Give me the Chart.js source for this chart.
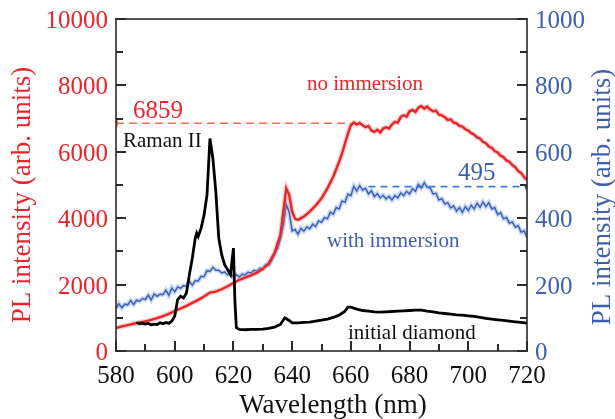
<!DOCTYPE html>
<html><head><meta charset="utf-8">
<script src="https://cdn.jsdelivr.net/npm/chart.js@4"></script>
<style>html,body{margin:0;padding:0;background:#fff}#c{display:block}</style>
</head><body>
<canvas id="c" width="615" height="419"></canvas>
<script>
// ---- data ----
const xTicks = [580,600,620,640,660,680,700,720];
const leftTicks = [0,2000,4000,6000,8000,10000];
const rightTicks = [0,200,400,600,800,1000];

const redX = [580,582,584,586,588,590,592,594,596,598,600,602,604,606,608,610,612,614,616,618,620,622,624,626,628,630,632,634,636,637,638,639,640,641,642,644,646,648,650,652,654,656,657,658,659,660,661,662,663,664,665,666,667,668,669,670,671,672,673,674,675,676,677,678,679,680,681,682,683,684,685,686,687,688,689,690,691,692,693,694,695,696,697,698,699,700,701,702,703,704,705,706,707,708,709,710,711,712,713,714,715,716,717,718,719,720];
const redY = [690,740,780,820,860,890,940,990,1050,1120,1200,1280,1360,1450,1540,1640,1760,1790,1860,1950,2050,2140,2210,2280,2360,2470,2640,2950,3500,4200,4900,4700,4200,3980,3950,4050,4200,4380,4600,4900,5250,5700,5950,6250,6550,6800,6880,6820,6870,6800,6740,6780,6640,6600,6660,6580,6700,6740,6700,6820,6900,6880,7050,7100,7060,7220,7260,7200,7330,7380,7300,7360,7270,7220,7240,7120,7100,7040,6960,6980,6880,6860,6780,6760,6680,6640,6560,6520,6430,6400,6300,6260,6160,6120,6020,5980,5880,5840,5740,5700,5600,5540,5420,5360,5240,5150];

const blueX = [580,581,582,583,584,585,586,587,588,589,590,591,592,593,594,595,596,597,598,599,600,601,602,603,604,605,606,607,608,609,610,611,612,613,614,615,616,617,618,619,620,621,622,623,624,625,626,627,628,629,630,631,632,633,634,635,636,637,638,639,640,641,642,643,644,645,646,647,648,649,650,651,652,653,654,655,656,657,658,659,660,661,662,663,664,665,666,667,668,669,670,671,672,673,674,675,676,677,678,679,680,681,682,683,684,685,686,687,688,689,690,691,692,693,694,695,696,697,698,699,700,701,702,703,704,705,706,707,708,709,710,711,712,713,714,715,716,717,718,719,720];
const blueY = [128,142,130,141,139,152,140,153,150,158,155,168,154,172,165,171,170,183,168,190,178,193,189,197,195,210,198,212,211,225,224,242,240,252,243,243,235,238,229,233,224,230,223,231,229,237,235,243,241,249,248,259,258,272,292,308,338,378,442,418,362,366,352,370,361,374,368,382,375,392,388,402,398,418,412,432,428,452,448,472,468,496,482,498,485,490,473,483,465,474,461,469,458,466,455,468,461,476,468,481,473,489,481,502,491,507,493,492,473,475,455,459,443,447,431,437,421,432,418,435,423,439,428,445,433,449,435,447,428,432,411,417,398,402,385,389,373,377,358,362,342];

const blackX = [587,588,589,590,591,592,593,594,595,596,597,598,599,600,601,602,603,604,605,606,607,607.5,608,609,610,611,612,613,614,615,616,617,618,619,620,620.5,621,622,624,626,628,630,632,634,636,637.5,639,640,642,644,646,648,650,652,654,656,658,659,660,662,664,666,668,670,672,674,676,678,680,682,684,686,688,690,692,694,696,698,700,702,704,706,708,710,712,714,716,718,720];
const blackY = [850,820,840,810,830,790,810,800,850,820,860,830,900,1050,1550,1650,1600,1750,2300,2800,3400,3550,3450,3700,4100,4700,6400,5800,4800,3400,2900,2600,2450,2300,3100,1500,700,650,640,650,650,660,680,720,800,1000,920,850,850,860,870,900,930,960,1010,1080,1200,1320,1320,1260,1220,1200,1180,1170,1180,1190,1200,1210,1220,1230,1230,1200,1180,1150,1130,1110,1090,1080,1060,1040,1010,980,960,940,920,900,880,860,840];

const markRedValue = 6859;   // left axis
const markRedX = [580,660];
const markBlueValue = 495;   // right axis
const markBlueX = [666,720];

// ---- colours ----
const RED = '#e8252c';
const BLUE = '#3d5fb0';
const AXIS = '#2a2a2a';
const SERIF = '"Liberation Serif", "Times New Roman", serif';

const pts = (xs, ys) => xs.map((x,i)=>({x, y: ys[i]}));

const boxTicks = {
  id:'boxTicks',
  afterDraw(chart){
    const ctx = chart.ctx, a = chart.chartArea;
    const sx = chart.scales.x, syl = chart.scales.yL, syr = chart.scales.yR;
    ctx.save();
    ctx.fillStyle = AXIS;
    const tw = 1.6;
    // frame
    ctx.fillRect(a.left - tw/2, a.top - tw/2, a.right - a.left + tw, tw);
    ctx.fillRect(a.left - tw/2, a.bottom - tw/2, a.right - a.left + tw, tw);
    ctx.fillRect(a.left - tw/2, a.top - tw/2, tw, a.bottom - a.top + tw);
    ctx.fillRect(a.right - tw/2, a.top - tw/2, tw, a.bottom - a.top + tw);
    // x ticks (inward)
    for (let i = 0; i < xTicks.length; i++) {
      const px = Math.round(sx.getPixelForValue(xTicks[i]));
      ctx.fillRect(px - 1, a.bottom - 10, 2, 10);
      if (i < xTicks.length - 1) {
        const pm = Math.round(sx.getPixelForValue((xTicks[i] + xTicks[i+1]) / 2));
        ctx.fillRect(pm - 1, a.bottom - 7, 2, 7);
      }
    }
    // y ticks (inward), left and right
    for (let i = 0; i < leftTicks.length; i++) {
      const py = Math.round(syl.getPixelForValue(leftTicks[i]));
      ctx.fillRect(a.left, py - 1, 10, 2);
      ctx.fillRect(a.right - 10, py - 1, 10, 2);
      if (i < leftTicks.length - 1) {
        const pm = Math.round(syl.getPixelForValue((leftTicks[i] + leftTicks[i+1]) / 2));
        ctx.fillRect(a.left, pm - 1, 7, 2);
        ctx.fillRect(a.right - 7, pm - 1, 7, 2);
      }
    }
    // tick labels
    ctx.font = '25px ' + SERIF;
    ctx.textBaseline = 'alphabetic';
    ctx.textAlign = 'center'; ctx.fillStyle = '#111';
    xTicks.forEach(v => ctx.fillText(String(v), sx.getPixelForValue(v), 383));
    ctx.textAlign = 'right'; ctx.fillStyle = RED;
    leftTicks.forEach(v => ctx.fillText(String(v), a.left - 8, syl.getPixelForValue(v) + 9));
    ctx.textAlign = 'left'; ctx.fillStyle = BLUE;
    rightTicks.forEach(v => ctx.fillText(String(v), a.right + 8, syr.getPixelForValue(v) + 9));
    // axis titles
    ctx.font = '27px ' + SERIF;
    ctx.textAlign = 'center'; ctx.textBaseline = 'alphabetic';
    ctx.fillStyle = '#111';
    ctx.fillText('Wavelength (nm)', 333, 413);
    ctx.textBaseline = 'middle';
    ctx.save(); ctx.translate(23, 195); ctx.rotate(-Math.PI/2);
    ctx.fillStyle = RED; ctx.fillText('PL intensity (arb. units)', 0, 0); ctx.restore();
    ctx.save(); ctx.translate(603, 197); ctx.rotate(-Math.PI/2);
    ctx.fillStyle = BLUE; ctx.fillText('PL intensity (arb. units)', 0, 0); ctx.restore();
    // annotations
    ctx.textAlign = 'left'; ctx.textBaseline = 'alphabetic';
    ctx.font = '25px ' + SERIF; ctx.fillStyle = RED;
    ctx.fillText(String(markRedValue), 133, 118);
    ctx.fillStyle = BLUE;
    ctx.fillText(String(markBlueValue), 458, 180);
    ctx.font = '21px ' + SERIF;
    ctx.fillStyle = '#111'; ctx.fillText('Raman II', 123, 147);
    ctx.fillStyle = RED; ctx.fillText('no immersion', 307, 90);
    ctx.fillStyle = BLUE; ctx.fillText('with immersion', 327, 247);
    ctx.fillStyle = '#111'; ctx.fillText('initial diamond', 348, 339);
    ctx.restore();
  }
};

new Chart(document.getElementById('c'), {
  type:'line',
  data:{ datasets:[
    {label:'initial diamond', data:pts(blackX,blackY), yAxisID:'yL', borderColor:'#000', borderWidth:2.8, pointRadius:0, tension:0},
    {label:'no immersion', data:pts(redX,redY), yAxisID:'yL', borderColor:RED, borderWidth:2.4, pointRadius:0, tension:0},
    {label:'no immersion halo', data:pts(redX,redY), yAxisID:'yL', borderColor:'rgba(240,120,110,0.35)', borderWidth:5, pointRadius:0, tension:0},
    {label:'with immersion', data:pts(blueX,blueY), yAxisID:'yR', borderColor:'#3f62b8', borderWidth:1.5, pointRadius:0, tension:0},
    {label:'with immersion halo', data:pts(blueX,blueY), yAxisID:'yR', borderColor:'rgba(90,140,230,0.35)', borderWidth:4.5, pointRadius:0, tension:0},
    {label:'mark red', data:markRedX.map(x=>({x,y:markRedValue})), yAxisID:'yL', borderColor:'#f0704e', borderWidth:1.6, borderDash:[8,5],
      pointStyle:'triangle', rotation:-90, pointRadius:[4,0], pointBackgroundColor:'#f0704e', pointBorderWidth:0},
    {label:'mark blue', data:markBlueX.map(x=>({x,y:markBlueValue})), yAxisID:'yR', borderColor:'#3a7fd4', borderWidth:1.6, borderDash:[7,5],
      pointStyle:'triangle', rotation:90, pointRadius:[0,3.5], pointBackgroundColor:'#24508f', pointBorderWidth:0}
  ]},
  options:{
    responsive:false, animation:false, devicePixelRatio:1,
    layout:{padding:{top:19,left:0,right:0,bottom:0}},
    plugins:{legend:{display:false}, tooltip:{enabled:false}},
    scales:{
      x:{type:'linear', min:580, max:720, afterFit:s=>{s.height=68;},
        grid:{display:false, drawTicks:false}, border:{display:false},
        ticks:{display:false, stepSize:20}},
      yL:{type:'linear', position:'left', min:0, max:10000, afterFit:s=>{s.width=116;},
        grid:{display:false, drawTicks:false}, border:{display:false},
        ticks:{display:false, stepSize:2000}},
      yR:{type:'linear', position:'right', min:0, max:1000, afterFit:s=>{s.width=88;},
        grid:{display:false, drawTicks:false}, border:{display:false},
        ticks:{display:false, stepSize:200}}
    }
  },
  plugins:[boxTicks]
});
</script>
</body></html>
